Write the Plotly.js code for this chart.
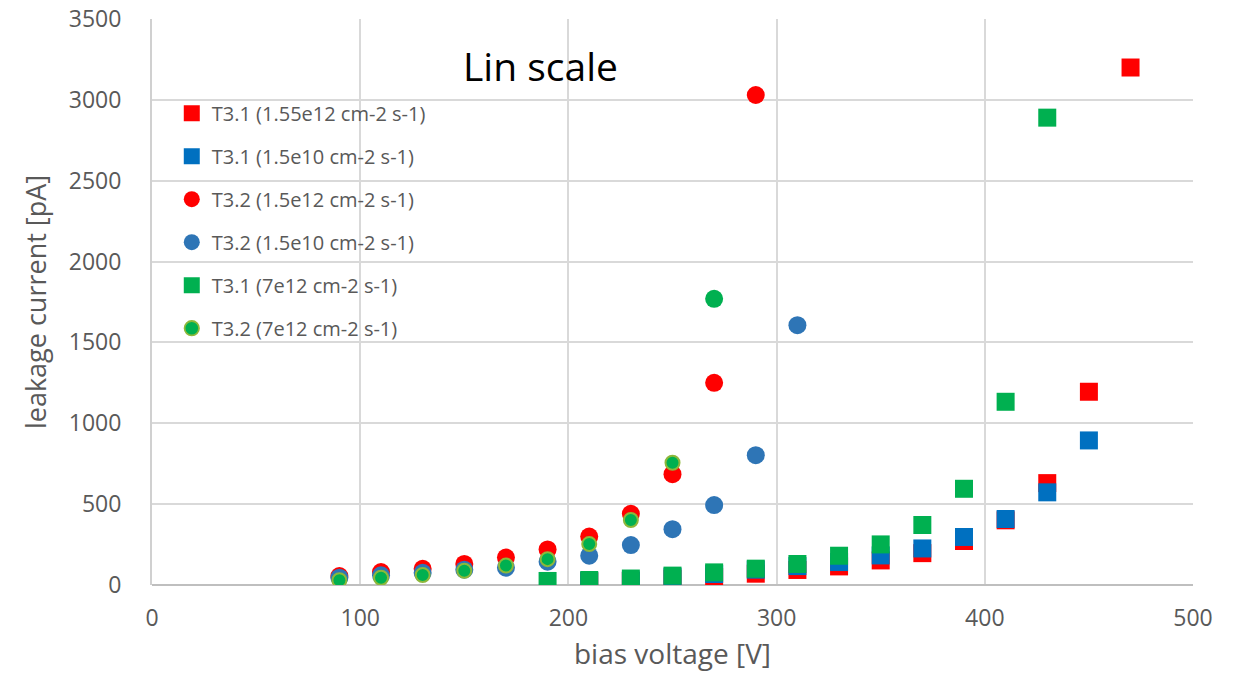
<!DOCTYPE html>
<html>
<head>
<meta charset="utf-8">
<script src="https://cdn.plot.ly/plotly-3.0.1.min.js"></script>
<style>html,body{margin:0;padding:0;background:#fff;}#chart{width:1243px;height:675px;}</style>
</head>
<body>
<div id="chart"></div>
<script>
// ---- data ----
const seriesNames = [
  "T3.1 (1.55e12 cm-2 s-1)",
  "T3.1 (1.5e10 cm-2 s-1)",
  "T3.2 (1.5e12 cm-2 s-1)",
  "T3.2 (1.5e10 cm-2 s-1)",
  "T3.1 (7e12 cm-2 s-1)",
  "T3.2 (7e12 cm-2 s-1)"
];
const vT31red   = [210, 230, 250, 270, 290, 310, 330, 350, 370, 390, 410, 430, 450, 470];
const iT31red   = [22, 25, 39, 49, 70, 93, 115, 152, 197, 272, 400, 630, 1195, 3200];
const vT31blue  = [210, 230, 250, 270, 290, 310, 330, 350, 370, 390, 410, 430, 450];
const iT31blue  = [25, 28, 51, 68, 95, 117, 142, 183, 226, 297, 408, 573, 894];
const vT32red   = [90, 110, 130, 150, 170, 190, 210, 230, 250, 270, 290];
const iT32red   = [55, 80, 100, 130, 170, 220, 300, 440, 685, 1250, 3030];
const vT32blue  = [90, 110, 130, 150, 170, 190, 210, 230, 250, 270, 290, 310];
const iT32blue  = [45, 60, 75, 95, 107, 144, 181, 247, 345, 494, 803, 1607];
const vT31green = [190, 210, 230, 250, 270, 290, 310, 330, 350, 370, 390, 410, 430];
const iT31green = [25, 31, 40, 58, 78, 101, 130, 181, 251, 371, 595, 1133, 2890];
const vT32green = [90, 110, 130, 150, 170, 190, 210, 230, 250, 270];
const iT32green = [30, 45, 62, 88, 120, 160, 253, 402, 756, 1770];
const xTicks = [0, 100, 200, 300, 400, 500];
const yTicks = [0, 500, 1000, 1500, 2000, 2500, 3000, 3500];

const FONT = "Open Sans, Liberation Sans, sans-serif";
const GRAY = "#595959";

function tr(i, x, y, symbol, color, extra) {
  const m = Object.assign({symbol: symbol, size: 18, color: color, opacity: 1, line: {width: 0}}, extra || {});
  return {type: "scatter", mode: "markers", name: seriesNames[i], x: x, y: y,
          legendgroup: "g" + i, marker: m, opacity: 1, hoverinfo: "x+y+name"};
}

const greenSizes = vT32green.map((v, k) => k === vT32green.length - 1 ? 18 : 14);
const greenLineW = vT32green.map((v, k) => k === vT32green.length - 1 ? 0 : 2);

const data = [
  tr(0, vT31red, iT31red, "square", "#FF0000"),
  tr(1, vT31blue, iT31blue, "square", "#0070C0"),
  tr(2, vT32red, iT32red, "circle", "#FF0000"),
  tr(3, vT32blue, iT32blue, "circle", "#2E75B6"),
  tr(4, vT31green, iT31green, "square", "#00B050"),
  tr(5, vT32green, iT32green, "circle", "#00B050",
     {size: greenSizes, line: {width: greenLineW, color: "#8DB83A"}})
];

const layout = {
  width: 1243, height: 675,
  margin: {l: 152, r: 50, t: 19, b: 90},
  paper_bgcolor: "#ffffff", plot_bgcolor: "#ffffff",
  font: {family: FONT, color: GRAY},
  showlegend: true,
  legend: {x: 0.019, y: 0.868, xanchor: "left", yanchor: "top",
           bgcolor: "rgba(255,255,255,0)", font: {size: 20, color: GRAY, family: FONT},
           tracegroupgap: 14, itemsizing: "trace"},
  xaxis: {range: [0, 500], tickvals: xTicks, ticktext: xTicks.map(String),
          showgrid: true, gridcolor: "#D9D9D9", gridwidth: 2,
          zeroline: false, showline: false, ticks: "outside", ticklen: 12, tickcolor: "rgba(0,0,0,0)",
          tickfont: {size: 23, color: GRAY, family: FONT},
          title: {text: "bias voltage [V]", font: {size: 28, color: GRAY, family: FONT}, standoff: 12},
          fixedrange: true},
  yaxis: {range: [0, 3500], tickvals: yTicks, ticktext: yTicks.map(String),
          showgrid: true, gridcolor: "#D9D9D9", gridwidth: 2,
          zeroline: true, zerolinecolor: "#BFBFBF", zerolinewidth: 2,
          showline: true, linecolor: "#D0D0D0", linewidth: 2,
          ticks: "outside", ticklen: 24, tickcolor: "rgba(0,0,0,0)",
          tickfont: {size: 23, color: GRAY, family: FONT},
          title: {text: "leakage current [pA]", font: {size: 27, color: GRAY, family: FONT}, standoff: 14},
          fixedrange: true},
  annotations: [{xref: "paper", yref: "paper", x: 0.373, y: 0.917, xanchor: "center", yanchor: "middle",
                 text: "Lin scale", showarrow: false, font: {size: 39, color: "#000000", family: FONT}}]
};

Plotly.newPlot("chart", data, layout, {displayModeBar: false, staticPlot: true});
</script>
</body>
</html>
